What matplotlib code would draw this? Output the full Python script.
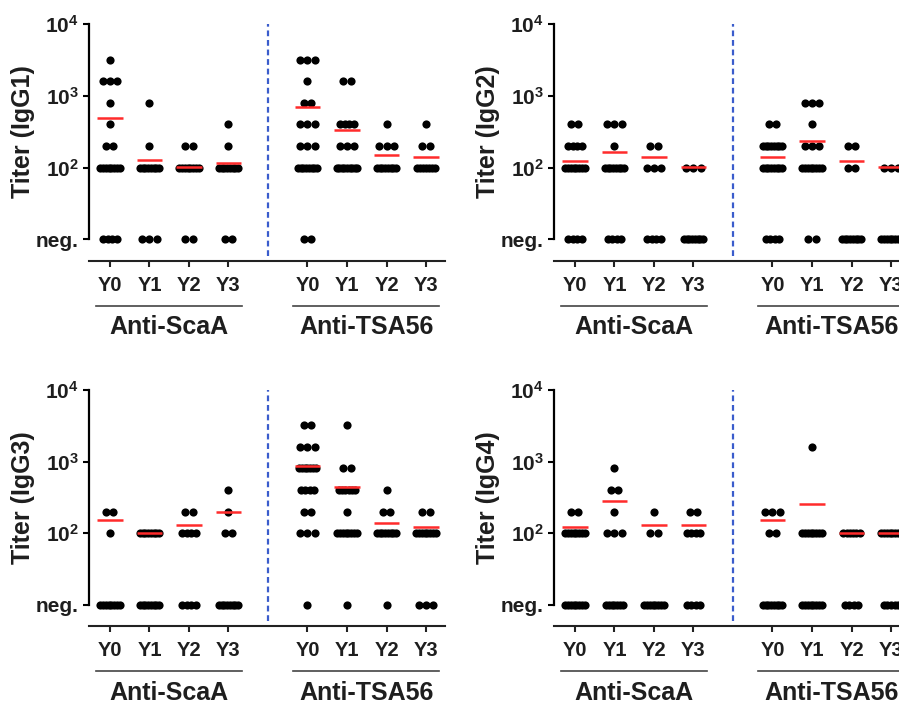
import matplotlib
import numpy as np

matplotlib.use('Agg')
from matplotlib import pyplot as plt
from matplotlib import transforms
from matplotlib.ticker import NullLocator

plt.rcParams['font.family'] = ['Liberation Sans', 'DejaVu Sans']
plt.rcParams['font.weight'] = 'bold'
plt.rcParams['mathtext.fontset'] = 'custom'
plt.rcParams['mathtext.rm'] = 'Liberation Sans:bold'
plt.rcParams['mathtext.bf'] = 'Liberation Sans:bold'

# titer levels; "neg." is drawn one decade below 10^2
levels = [3200, 1600, 800, 400, 200, 100, 10]
years = ["Y0", "Y1", "Y2", "Y3"]
groups = ["Anti-ScaA", "Anti-TSA56"]
ytick_vals = [10, 100, 1000, 10000]
ytick_labels = ["neg.", r"$\mathbf{10^{2}}$", r"$\mathbf{10^{3}}$", r"$\mathbf{10^{4}}$"]

# subjects per level (3200, 1600, 800, 400, 200, 100, neg.), one row per year
igg1_scaa = [[1, 3, 1, 1, 2, 8, 4],
             [0, 0, 1, 0, 1, 8, 3],
             [0, 0, 0, 0, 2, 8, 2],
             [0, 0, 0, 1, 1, 8, 2]]
igg1_tsa = [[3, 1, 2, 3, 3, 8, 2],
            [0, 2, 0, 4, 3, 9, 0],
            [0, 0, 0, 1, 3, 8, 0],
            [0, 0, 0, 1, 2, 7, 0]]
igg2_scaa = [[0, 0, 0, 2, 4, 8, 4],
             [0, 0, 0, 3, 1, 8, 4],
             [0, 0, 0, 0, 2, 3, 4],
             [0, 0, 0, 0, 0, 3, 8]]
igg2_tsa = [[0, 0, 0, 2, 8, 8, 4],
            [0, 0, 3, 1, 3, 8, 2],
            [0, 0, 0, 0, 2, 2, 8],
            [0, 0, 0, 0, 0, 3, 8]]
igg3_scaa = [[0, 0, 0, 0, 2, 1, 8],
             [0, 0, 0, 0, 0, 8, 8],
             [0, 0, 0, 0, 2, 4, 4],
             [0, 0, 0, 1, 1, 2, 8]]
igg3_tsa = [[2, 3, 7, 4, 2, 3, 1],
            [1, 0, 2, 6, 1, 8, 1],
            [0, 0, 0, 1, 2, 8, 1],
            [0, 0, 0, 0, 2, 8, 3]]
igg4_scaa = [[0, 0, 0, 0, 2, 8, 8],
             [0, 0, 1, 2, 1, 3, 7],
             [0, 0, 0, 0, 1, 2, 8],
             [0, 0, 0, 0, 2, 4, 4]]
igg4_tsa = [[0, 0, 0, 0, 3, 2, 8],
            [0, 1, 0, 0, 0, 8, 8],
            [0, 0, 0, 0, 0, 6, 4],
            [0, 0, 0, 0, 0, 8, 5]]

# group means (red bars)
igg1_means = [[494, 129, 102, 117], [708, 333, 150, 141]]
igg2_means = [[125, 163, 142, 101], [142, 232, 124, 101]]
igg3_means = [[152, 100, 128, 200], [871, 440, 136, 120]]
igg4_means = [[120, 276, 128, 128], [152, 258, 100, 100]]

W, H = 899, 708
fig = plt.figure(figsize=(W / 100, H / 100), dpi=100)


def row_offsets(n):
    if n <= 3:
        return (np.arange(n) - (n - 1) / 2) * 0.18
    span = min(0.22 + 0.038 * (n - 1), 0.53)
    return np.linspace(-span / 2, span / 2, n)


def panel(left, bottom, height, ylabel, scaa, tsa, means):
    ax = fig.add_axes([left / W, (H - bottom) / H, 356 / W, height / H])
    ax.set_yscale('log')
    ax.set_ylim(10**0.7, 10**4)
    ax.set_xlim(-0.53, 8.48)
    for g, counts in enumerate([scaa, tsa]):
        for j in range(4):
            x0 = g * 5 + j
            for lev, n in zip(levels, counts[j]):
                if n == 0:
                    continue
                ax.plot(x0 + row_offsets(n), [lev] * n, 'o', color='black',
                        ms=5.9, mec='none', zorder=3, clip_on=False)
            ax.plot([x0 - 0.32, x0 + 0.32], [means[g][j]] * 2, color='#ff2b2b',
                    lw=1.8, solid_capstyle='butt', zorder=4)
    ax.axvline(4, ymin=0.02, ymax=1, color='#3a5ccc', lw=1.6, dashes=(2.6, 1.7))

    for s in ['top', 'right']:
        ax.spines[s].set_visible(False)
    ax.spines['left'].set_bounds(10, 10**4)
    ax.spines['left'].set_linewidth(1.6)
    ax.spines['bottom'].set_linewidth(1.5)
    ax.spines['bottom'].set_color('#222222')
    ax.yaxis.set_minor_locator(NullLocator())
    ax.set_yticks(ytick_vals)
    ax.set_yticklabels(ytick_labels, fontsize=15, color='#1e1e1e')
    ax.tick_params(axis='y', length=4.5, width=1.5, pad=3)
    ax.set_xticks([0, 1, 2, 3, 5, 6, 7, 8])
    ax.set_xticklabels(years * 2, fontsize=14.5, color='#1e1e1e')
    ax.tick_params(axis='x', length=4.5, width=1.5, pad=6, color='#222222')
    ax.set_ylabel(ylabel, fontsize=18, fontweight='bold', color='#1e1e1e')
    ax.yaxis.set_label_coords(-54 / 356, 0.545)

    trans = transforms.blended_transform_factory(ax.transData, ax.transAxes)
    for g, name in enumerate(groups):
        x0 = g * 5
        ax.plot([x0 - 0.36, x0 + 3.33], [-44.7 / height] * 2, color='#444444',
                lw=1.2, transform=trans, clip_on=False)
        ax.text(x0 + 1.5, -66.5 / height, name, transform=trans, ha='center',
                va='center', fontsize=18, fontweight='bold', color='#1e1e1e')
    return ax


panel(89, 261, 237, "Titer (IgG1)", igg1_scaa, igg1_tsa, igg1_means)
panel(554, 261, 237, "Titer (IgG2)", igg2_scaa, igg2_tsa, igg2_means)
panel(89, 626, 236, "Titer (IgG3)", igg3_scaa, igg3_tsa, igg3_means)
panel(554, 626, 236, "Titer (IgG4)", igg4_scaa, igg4_tsa, igg4_means)

fig.savefig("out.png", dpi=100, facecolor='white')
